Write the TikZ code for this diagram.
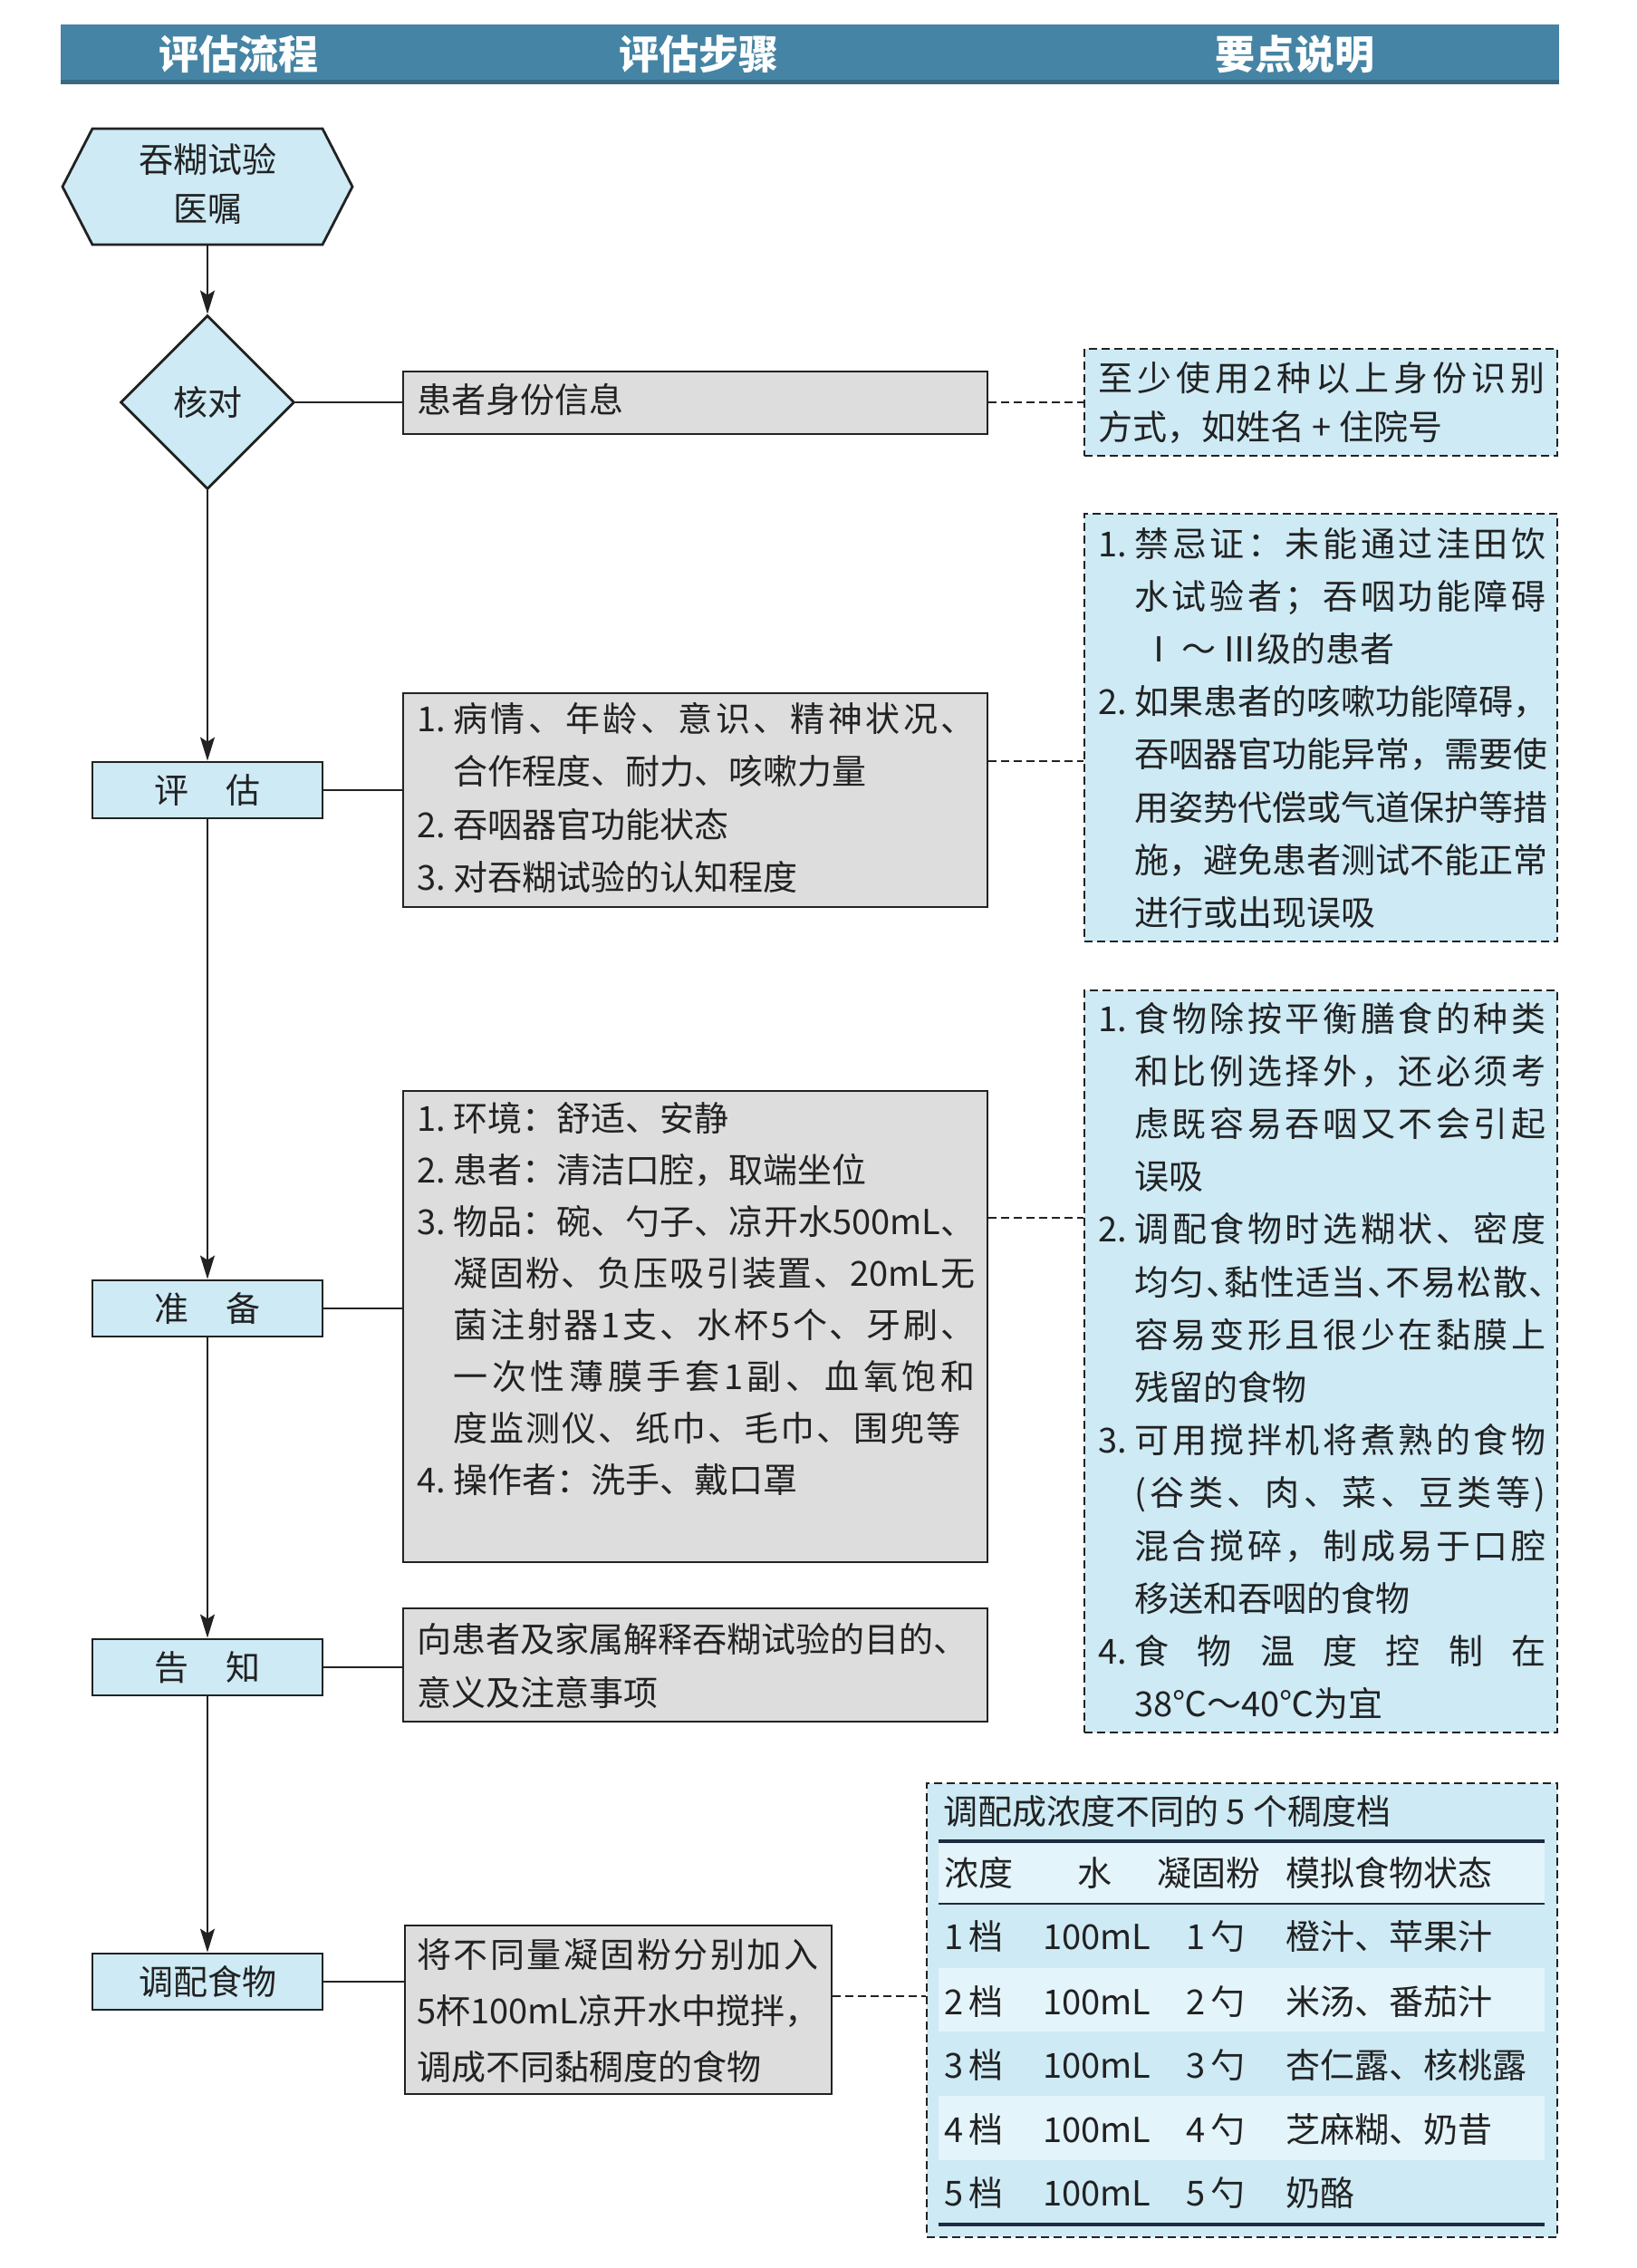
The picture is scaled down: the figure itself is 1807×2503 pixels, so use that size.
\documentclass[tikz,border=0pt]{standalone}
\usepackage{fontspec}
\setmainfont{Noto Sans CJK SC}
\usetikzlibrary{arrows.meta,fit,shapes.geometric}
\definecolor{hdr}{HTML}{4584A4}
\definecolor{lblue}{HTML}{CDEAF5}
\definecolor{llblue}{HTML}{E3F4FB}
\definecolor{lgrey}{HTML}{DDDDDD}
\definecolor{ink}{HTML}{222222}
\definecolor{navy}{HTML}{1E2B40}
\ExplSyntaxOn
\bool_new:N \l__rs_first_bool
\NewDocumentCommand \spreadtxt { m }
  {
    \bool_set_true:N \l__rs_first_bool
    \tl_map_inline:nn { #1 }
      {
        \bool_if:NF \l__rs_first_bool { \hfil }
        \bool_set_false:N \l__rs_first_bool
        ##1
      }
  }
\ExplSyntaxOff
\newcommand\jl[2]{\makebox[#1][s]{\spreadtxt{#2}}}
\newcommand\num[1]{\makebox[20pt][l]{#1}}
\newcommand\dn{\makebox[0.5em][l]{、}}
\newcommand\fs[1]{\fontsize{19pt}{#1pt}\selectfont}
\newlength\gw \setlength\gw{288pt}
\newlength\dw \setlength\dw{227pt}
\begin{document}
\begin{tikzpicture}[x=0.5pt,y=-0.5pt,
  bluebox/.style={draw=ink, line width=1.4pt, fill=lblue, minimum width=127pt, minimum height=31pt, inner sep=0pt, font=\fs{23}, text=ink},
  greybox/.style={draw=ink, line width=1.4pt, fill=lgrey, inner sep=0pt},
  dbox/.style={draw=ink, dash pattern=on 4.5pt off 2.5pt, line width=1pt, fill=lblue, inner sep=0pt},
  conn/.style={draw=ink, line width=1pt},
  arr/.style={conn, -{Stealth[length=13pt,width=8pt,inset=2.5pt]}},
  dconn/.style={conn, dash pattern=on 4.5pt off 2.5pt},
  txt/.style={inner sep=0pt, anchor=base west, text=ink, font=\fs{29}},
  hdrtxt/.style={inner sep=0pt, text=white, font=\fontsize{22pt}{26pt}\selectfont\bfseries},
  rule/.style={draw=navy, line width=1.8pt},
]
\useasboundingbox (0,0) rectangle (1807,2503);
\fill[white] (0,0) rectangle (1807,2503);

% header
\node[fill=hdr, inner sep=0pt, fit={(67,27)(1721,93)}] (hdr) {};
\fill[hdr!80!black] (67,88) rectangle (1721,93);
\node[hdrtxt] (h1) at (263,60) {评估流程};
\node[hdrtxt] (h2) at (771,60) {评估步骤};
\node[hdrtxt] (h3) at (1429,60) {要点说明};

% hexagon
\filldraw[draw=ink, line width=1.4pt, fill=lblue] (69,206) -- (102,142) -- (356,142) -- (389,206) -- (356,270) -- (102,270) -- cycle;
\node[inner sep=0pt, fit={(69,142)(389,270)}] (hex) {};
\node[align=center, text=ink, font=\fs{27}, inner sep=0pt] (hext) at (229,203) {吞糊试验\\医嘱};

% flow nodes
\node[diamond, draw=ink, line width=1.4pt, fill=lblue, minimum width=96pt, minimum height=96pt, inner sep=0pt, aspect=1, text=ink, font=\fs{23}] (dia) at (229,444) {核对};
\node[bluebox] (pg) at (229,872) {评\hspace{1.1em}估};
\node[bluebox] (zb) at (229,1444) {准\hspace{1.1em}备};
\node[bluebox] (gz) at (229,1840) {告\hspace{1.1em}知};
\node[bluebox] (tp) at (229,2187) {调配食物};

% grey boxes
\node[greybox, fit={(445,410)(1090,479)}] (g1) {};
\node[greybox, fit={(445,765)(1090,1001)}] (g2) {};
\node[greybox, fit={(445,1204)(1090,1724)}] (g3) {};
\node[greybox, fit={(445,1775)(1090,1900)}] (g4) {};
\node[greybox, fit={(447,2125)(918,2311)}] (g5) {};

% dashed boxes
\node[dbox, fit={(1197,385)(1719,503)}] (d1) {};
\node[dbox, fit={(1197,567)(1719,1039)}] (d2) {};
\node[dbox, fit={(1197,1093)(1719,1912)}] (d3) {};
\node[dbox, fit={(1023,1968)(1719,2469)}] (tb) {};

% connectors
\draw[arr] (hex.south) -- (dia.north);
\draw[arr] (dia.south) -- (pg.north);
\draw[arr] (pg.south) -- (zb.north);
\draw[arr] (zb.south) -- (gz.north);
\draw[arr] (gz.south) -- (tp.north);
\draw[conn] (dia.east) -- (dia.east -| g1.west);
\draw[conn] (pg.east) -- (pg.east -| g2.west);
\draw[conn] (zb.east) -- (zb.east -| g3.west);
\draw[conn] (gz.east) -- (gz.east -| g4.west);
\draw[conn] (tp.east) -- (tp.east -| g5.west);
\draw[dconn] (g1.east) -- (g1.east -| d1.west);
\draw[dconn] ([yshift=21.5pt]g2.east) -- ([yshift=21.5pt]g2.east -| d2.west);
\draw[dconn] ([yshift=60pt]g3.east) -- ([yshift=60pt]g3.east -| d3.west);
\draw[dconn] ([yshift=7.5pt]g5.east) -- ([yshift=7.5pt]g5.east -| tb.west);

% grey box texts
\node[txt] (g1t) at (460,456) {患者身份信息};
\node[txt, font=\fs{29.3}] (g2t) at (460,807) {\parbox[t]{300pt}{%
\num{1.}\jl{\gw}{病情、年龄、意识、精神状况、}\\
\num{}合作程度、耐力、咳嗽力量\\
\num{2.}吞咽器官功能状态\\
\num{3.}对吞糊试验的认知程度}};
\node[txt, font=\fs{28.5}] (g3t) at (460,1248) {\parbox[t]{300pt}{%
\num{1.}环境：舒适、安静\\
\num{2.}患者：清洁口腔，取端坐位\\
\num{3.}\jl{\gw}{物品：碗、勺子、凉开水{500mL}、}\\
\num{}\jl{\gw}{凝固粉、负压吸引装置、{20mL}无}\\
\num{}\jl{\gw}{菌注射器{1}支、水杯{5}个、牙刷、}\\
\num{}\jl{\gw}{一次性薄膜手套{1}副、血氧饱和}\\
\num{}\jl{280pt}{度监测仪、纸巾、毛巾、围兜等}\\
\num{4.}操作者：洗手、戴口罩}};
\node[txt, font=\fs{29.5}] (g4t) at (460,1823) {\parbox[t]{320pt}{%
向患者及家属解释吞糊试验的目的、\\
意义及注意事项}};
\node[txt, font=\fs{31}] (g5t) at (460,2171) {\parbox[t]{240pt}{%
\jl{221.5pt}{将不同量凝固粉分别加入}\\
\jl{221.5pt}{{5}杯{100mL}凉开水中搅拌，}\\
调成不同黏稠度的食物}};

% dashed box texts
\node[txt, font=\fs{27}] (d1t) at (1212,432) {\parbox[t]{260pt}{%
\jl{246.5pt}{至少使用{2}种以上身份识别}\\
方式，如姓名 + 住院号}};
\node[txt, font=\fs{29.1}] (d2t) at (1212,614) {\parbox[t]{260pt}{%
\num{1.}\jl{\dw}{禁忌证：未能通过洼田饮}\\
\num{}\jl{\dw}{水试验者；吞咽功能障碍}\\
\num{}\hspace{4pt}Ⅰ\,～\,Ⅲ级的患者\\
\num{2.}如果患者的咳嗽功能障碍，\\
\num{}\jl{\dw}{吞咽器官功能异常，需要使}\\
\num{}\jl{\dw}{用姿势代偿或气道保护等措}\\
\num{}\jl{\dw}{施，避免患者测试不能正常}\\
\num{}进行或出现误吸}};
\node[txt, font=\fs{29.1}] (d3t) at (1212,1138) {\parbox[t]{260pt}{%
\num{1.}\jl{\dw}{食物除按平衡膳食的种类}\\
\num{}\jl{\dw}{和比例选择外，还必须考}\\
\num{}\jl{\dw}{虑既容易吞咽又不会引起}\\
\num{}误吸\\
\num{2.}\jl{\dw}{调配食物时选糊状、密度}\\
\num{}\jl{\dw}{均匀\dn 黏性适当\dn 不易松散\dn}\\
\num{}\jl{\dw}{容易变形且很少在黏膜上}\\
\num{}残留的食物\\
\num{3.}\jl{\dw}{可用搅拌机将煮熟的食物}\\
\num{}\jl{\dw}{(谷类、肉、菜、豆类等)}\\
\num{}\jl{\dw}{混合搅碎，制成易于口腔}\\
\num{}移送和吞咽的食物\\
\num{4.}\jl{\dw}{食物温度控制在}\\
\num{}38℃～40℃为宜}};

% table
\fill[llblue] (1036,2032) rectangle (1705,2101);
\fill[llblue] (1036,2172) rectangle (1705,2242);
\fill[llblue] (1036,2313) rectangle (1705,2384);
\draw[rule] (1036,2032) -- (1705,2032);
\draw[rule, line width=1.4pt] (1036,2101) -- (1705,2101);
\draw[rule] (1036,2455) -- (1705,2455);
\node[txt] (tt) at (1041,2013) {调配成浓度不同的 5 个稠度档};
\node[txt] (c1) at (1042,2081) {浓度};
\node[txt, anchor=base] (c2) at (1208,2081) {水};
\node[txt] (c3) at (1277,2081) {凝固粉};
\node[txt] (c4) at (1419,2081) {模拟食物状态};
\foreach \n/\yy/\food in {1/2151/橙汁、苹果汁, 2/2223/米汤、番茄汁, 3/2293/杏仁露、核桃露, 4/2364/芝麻糊、奶昔, 5/2434/奶酪}{
  \node[txt] (r\n a) at (1042,\yy) {\n\,档};
  \node[txt] (r\n b) at (1151,\yy) {100mL};
  \node[txt] (r\n c) at (1309,\yy) {\n\,勺};
  \node[txt] (r\n d) at (1419,\yy) {\food};
}
\end{tikzpicture}
\end{document}
